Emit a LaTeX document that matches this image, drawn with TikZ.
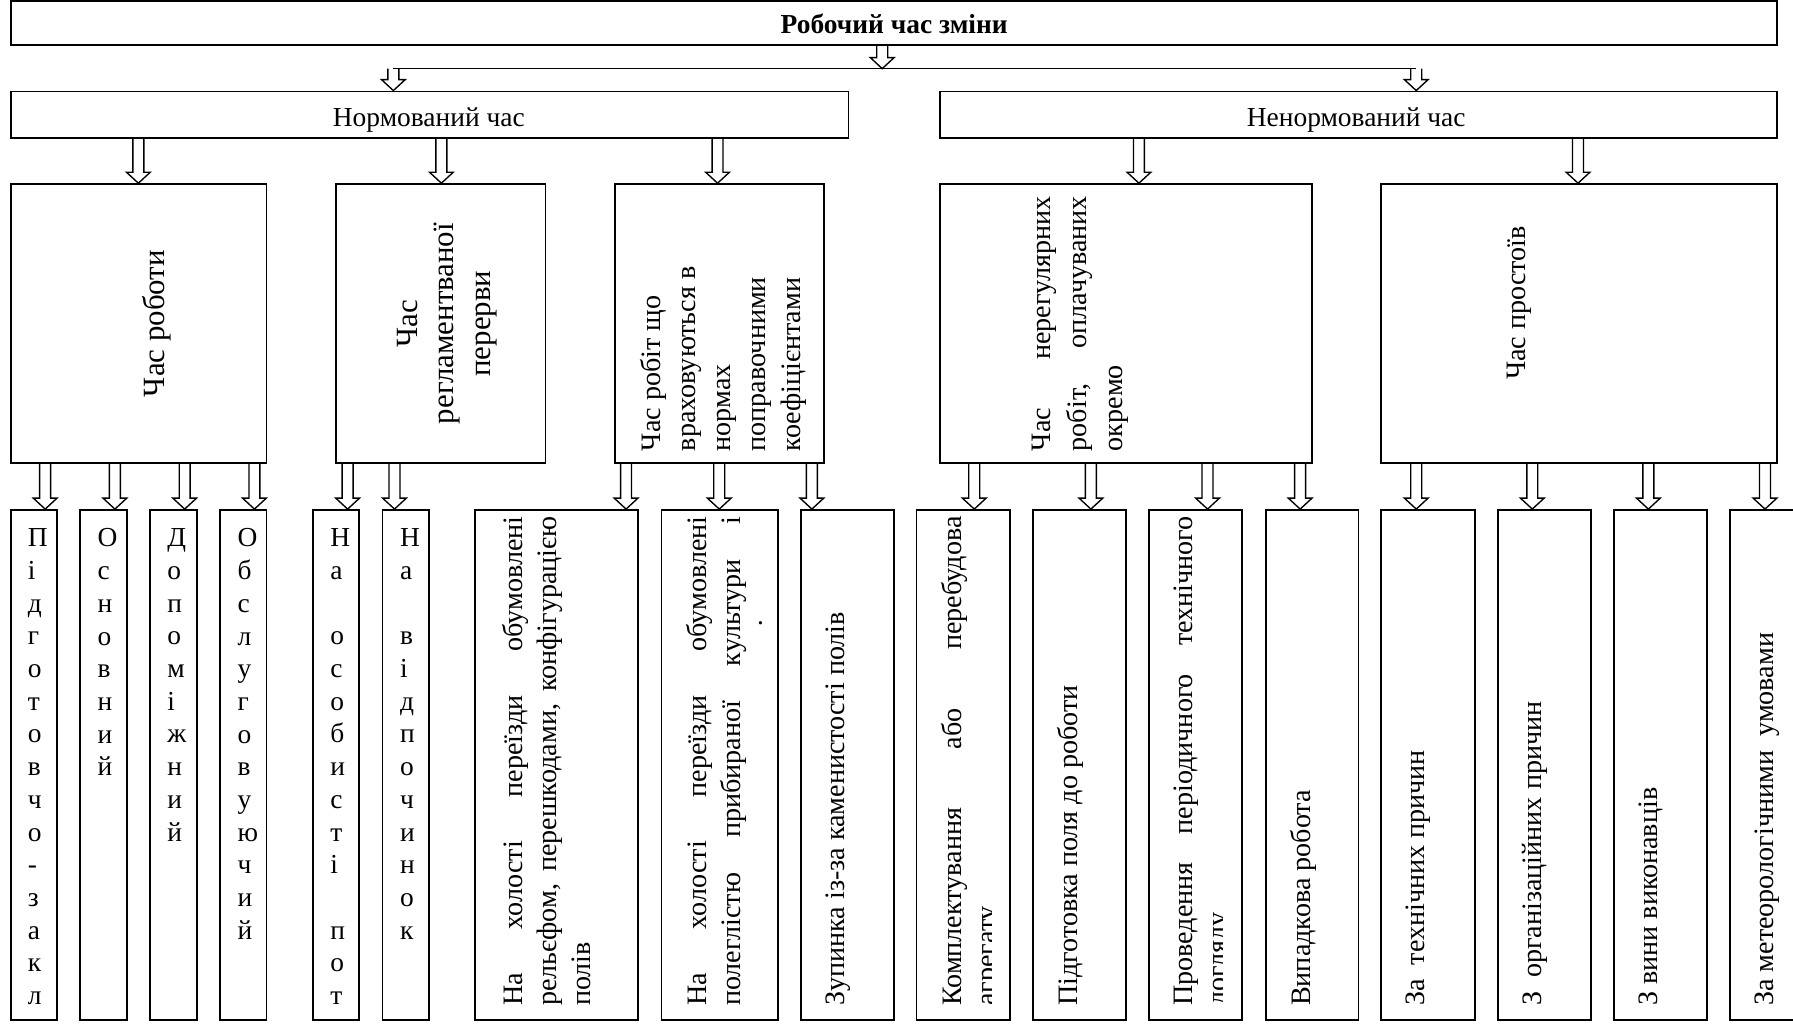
\documentclass[tikz,border=0pt]{standalone}
\usepackage{fontspec}
\setmainfont{Liberation Serif}
\usetikzlibrary{fit,calc}
\hyphenpenalty=10000
\exhyphenpenalty=10000

\tikzset{
  box/.style={draw, line width=0.8pt, inner sep=0pt},
  arrowline/.style={draw, line width=0.6pt, line join=miter},
  letters/.style={anchor=north west, inner sep=0pt, align=left, font=\fontsize{12}{14.3}\selectfont},
  btext/.style={rotate=90, anchor=north west, inner sep=0pt, text width=214pt, align=justify, font=\fontsize{12.3}{15}\selectfont},
  vtext/.style={rotate=90, inner sep=0pt}
}
% hollow block arrow, drawn straight down at x = #3
\newcommand{\hollowarrow}[3]{%
  \draw[arrowline] let \p1=(#3,0 |- #1), \p2=(#3,0 |- #2) in
    (\x1-2.4pt,\y1) -- (\x1-2.4pt,\y2+4.8pt) -- (\x1-5.2pt,\y2+4.8pt) -- (\x1,\y2)
    -- (\x1+5.2pt,\y2+4.8pt) -- (\x1+2.4pt,\y2+4.8pt) -- (\x1+2.4pt,\y1);}

\begin{document}
\begin{tikzpicture}[x=0.5pt, y=-0.5pt]
\useasboundingbox (0,0) rectangle (1568,900);
\clip (0,0) rectangle (1568,900);
% Top level
\node[box, fit={(9.5,1) (1554,39.5)}] (top) {};
\node[font=\bfseries\fontsize{12}{14}\selectfont, anchor=base] (ttop) at (782,29) {Робочий час зміни};
\coordinate (split) at (771.5,60);
\coordinate (splitL) at (344,60);
\coordinate (splitR) at (1238.5,60);
\draw[line width=0.7pt] (splitL) -- (splitR);
% Normed / non-normed
\node[box, fit={(9.5,80) (742,120.5)}] (norm) {};
\node[font=\fontsize{12}{14}\selectfont, anchor=base] (tnorm) at (375,111) {Нормований час};
\node[box, fit={(822,80) (1554,120.5)}] (nenorm) {};
\node[font=\fontsize{12}{14}\selectfont, anchor=base] (tnenorm) at (1186,111) {Ненормований час};
% Second row
\node[box, fit={(9.5,161) (233,405)}] (robota) {};
\node[box, fit={(293.5,161) (477,405)}] (perer) {};
\node[box, fit={(538,161) (720.5,405)}] (koef) {};
\node[box, fit={(822,161) (1147,405)}] (neregul) {};
\node[box, fit={(1208,161) (1554,405)}] (prost) {};
\node[vtext, font=\fontsize{13.5}{16}\selectfont] (trobota) at (137,283) {Час роботи};
\node[vtext, align=center, font=\fontsize{13.5}{16}\selectfont] (tperer) at (391,283) {Час\\регламентваної\\перерви};
\node[rotate=90, anchor=north west, inner sep=0pt, align=left, font=\fontsize{12.3}{15.2}\selectfont] (tkoef) at (560,395)
  {Час робіт що\\враховуються в\\нормах\\поправочними\\коефіцієнтами};
\node[rotate=90, anchor=north west, inner sep=0pt, text width=111.5pt, align=justify, font=\fontsize{12.3}{15.7}\selectfont] (tneregul) at (902,395)
  {Час нерегулярних\linebreak робіт, оплачуваних\linebreak окремо};
\node[vtext, font=\fontsize{12.3}{15}\selectfont] (tprost) at (1329,265) {Час простоїв};
% Bottom row
\foreach \n/\xa/\xb in {1/9.5/50, 2/70/111, 3/131/172, 4/192.5/233, 5/273.5/314, 6/334.5/375.5,
    7/415.5/558, 8/578.5/680, 9/700.5/782, 10/801.5/883.5, 11/903.5/985, 12/1005/1086,
    13/1107/1188, 14/1208/1290, 15/1310/1391, 16/1411.5/1492.5, 17/1513/1595}
  \node[box, fit={(\xa,446) (\xb,892)}] (b\n) {};
\node[letters] (t1) at (24,462) {П\\і\\д\\г\\о\\т\\о\\в\\ч\\о\\-\\з\\а\\к\\л};
\node[letters] (t2) at (85,462) {О\\с\\н\\о\\в\\н\\и\\й};
\node[letters] (t3) at (146,462) {Д\\о\\п\\о\\м\\і\\ж\\н\\и\\й};
\node[letters] (t4) at (207.5,462) {О\\б\\с\\л\\у\\г\\о\\в\\у\\ю\\ч\\и\\й};
\node[letters] (t5) at (288.5,462) {Н\\а\\~\\о\\с\\о\\б\\и\\с\\т\\і\\~\\п\\о\\т};
\node[letters] (t6) at (349.5,462) {Н\\а\\~\\в\\і\\д\\п\\о\\ч\\и\\н\\о\\к};
\node[btext] (t7) at (438.5,880) {На холості переїзди обумовлені\linebreak рельєфом, перешкодами, конфігурацією\linebreak полів};
\node[btext] (t8) at (599.5,880) {На холості переїзди обумовлені\linebreak полеглістю прибираної культури і\linebreak};
\node[font=\fontsize{12}{14}\selectfont, inner sep=0pt] (t8dot) at (665,545) {.};
\node[btext] (t9) at (721.5,880) {Зупинка із-за каменистості полів};
\begin{scope}
  \clip (b10.south west) rectangle ([xshift=-8.75pt]b10.north east);
  \node[btext] (t10) at (822.5,880) {Комплектування або перебудова\linebreak агрегату};
\end{scope}
\node[btext] (t11) at (924.5,880) {Підготовка поля до роботи};
\begin{scope}
  \clip (b12.south west) rectangle ([xshift=-8.75pt]b12.north east);
  \node[btext] (t12) at (1026,880) {Проведення періодичного технічного\linebreak догляду};
\end{scope}
\node[btext] (t13) at (1128,880) {Випадкова робота};
\node[btext] (t14) at (1229,880) {За\ \ технічних причин};
\node[btext] (t15) at (1331,880) {З\ \ організаційних причин};
\node[btext] (t16) at (1432.5,880) {З вини виконавців};
\node[btext] (t17) at (1534,880) {За метеорологічними\ \ умовами};
% Arrows
\hollowarrow{top.south}{split}{771.5}
\hollowarrow{splitL}{norm.north}{344}
\hollowarrow{splitR}{nenorm.north}{1238.5}
\foreach \src/\dst/\ax in {norm/robota/121, norm/perer/386, norm/koef/627.5, nenorm/neregul/996, nenorm/prost/1380,
    robota/b1/39.5, robota/b2/100.5, robota/b3/161.5, robota/b4/222.5, perer/b5/304, perer/b6/345,
    koef/b7/547.5, koef/b8/629, koef/b9/710, neregul/b10/852, neregul/b11/954, neregul/b12/1056, neregul/b13/1137,
    prost/b14/1238.5, prost/b15/1340, prost/b16/1441.5, prost/b17/1543.5}
  \hollowarrow{\src.south}{\dst.north}{\ax};
\end{tikzpicture}
\end{document}
